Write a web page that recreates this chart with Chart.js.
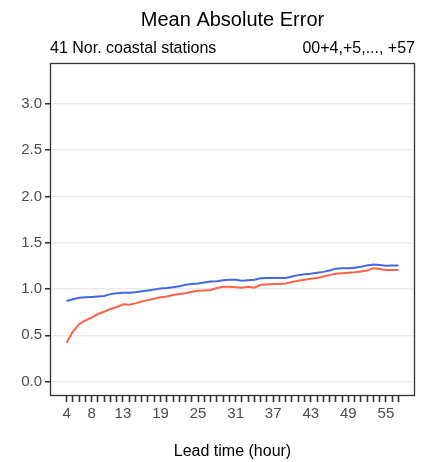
<!DOCTYPE html>
<html>
<head>
<meta charset="utf-8">
<script src="https://cdn.jsdelivr.net/npm/chart.js@4.4.1/dist/chart.umd.min.js"></script>
<style>
    body { margin: 0; background: #fff; }
    canvas { display: block; }
</style>
</head>
<body>
<canvas id="chart-mae" width="431" height="462"></canvas>
<script>
const hours = [4, 5, 6, 7, 8, 9, 10, 11, 12, 13, 14, 15, 16, 17, 18, 19, 20, 21, 22, 23,
    24, 25, 26, 27, 28, 29, 30, 31, 32, 33, 34, 35, 36, 37, 38, 39, 40, 41, 42, 43,
    44, 45, 46, 47, 48, 49, 50, 51, 52, 53, 54, 55, 56, 57];

// blue line
const maeBlue = [0.87, 0.89, 0.905, 0.91, 0.915, 0.92, 0.925, 0.945, 0.955, 0.96,
    0.96, 0.965, 0.975, 0.985, 0.995, 1.005, 1.01, 1.02, 1.03, 1.045,
    1.055, 1.06, 1.07, 1.08, 1.085, 1.095, 1.10, 1.10, 1.09, 1.095,
    1.10, 1.115, 1.12, 1.12, 1.12, 1.12, 1.135, 1.15, 1.16, 1.165,
    1.175, 1.185, 1.20, 1.22, 1.225, 1.225, 1.23, 1.24, 1.255, 1.265,
    1.26, 1.25, 1.255, 1.255];

// red line
const maeRed = [0.42, 0.54, 0.62, 0.66, 0.69, 0.73, 0.755, 0.785, 0.805, 0.835,
    0.83, 0.845, 0.865, 0.88, 0.895, 0.91, 0.92, 0.935, 0.945, 0.955,
    0.97, 0.98, 0.985, 0.99, 1.01, 1.025, 1.025, 1.02, 1.015, 1.025,
    1.015, 1.045, 1.05, 1.055, 1.055, 1.06, 1.075, 1.09, 1.10, 1.11,
    1.12, 1.135, 1.15, 1.165, 1.17, 1.175, 1.18, 1.19, 1.20, 1.225,
    1.215, 1.205, 1.205, 1.205];

const xLabelHours = [4, 8, 13, 19, 25, 31, 37, 43, 49, 55];
const yTicks = [0.0, 0.5, 1.0, 1.5, 2.0, 2.5, 3.0];

const titleText = 'Mean Absolute Error';
const leftNote = '41 Nor. coastal stations';
const rightNote = '00+4,+5,..., +57';
const xTitle = 'Lead time (hour)';

const FONT = '"Liberation Sans", Arial, Helvetica, sans-serif';

const toPoints = (ys) => hours.map((h, i) => ({x: h, y: ys[i]}));

// title, notes above the panel and the panel frame
const frame = {
    id: 'frame',
    afterDraw(chart) {
        const {ctx, chartArea: a} = chart;
        ctx.save();
        ctx.strokeStyle = '#333333';
        ctx.lineWidth = 1.3;
        ctx.strokeRect(a.left + 0.5, a.top + 0.5, a.right - a.left - 1, a.bottom - a.top - 1);

        ctx.fillStyle = '#000';
        ctx.textBaseline = 'middle';
        ctx.font = '20px ' + FONT;
        ctx.textAlign = 'center';
        ctx.fillText(titleText, (a.left + a.right) / 2, 20);

        ctx.font = '16px ' + FONT;
        ctx.textAlign = 'left';
        ctx.fillText(leftNote, a.left, 49);
        ctx.textAlign = 'right';
        ctx.fillText(rightNote, a.right, 49);
        ctx.restore();
    },
};

new Chart(document.getElementById('chart-mae'), {
    type: 'line',
    data: {
        datasets: [{
            data: toPoints(maeBlue),
            borderColor: '#4169e1',
            borderWidth: 2,
            pointRadius: 0,
            tension: 0,
        }, {
            data: toPoints(maeRed),
            borderColor: '#ff6347',
            borderWidth: 2,
            pointRadius: 0,
            tension: 0,
        }],
    },
    options: {
        responsive: false,
        animation: false,
        layout: {
            padding: {top: 63, right: 16, left: 0, bottom: 0},
        },
        plugins: {
            legend: {display: false},
            tooltip: {enabled: false},
        },
        scales: {
            x: {
                type: 'linear',
                min: 1.35,
                max: 59.65,
                afterBuildTicks: (scale) => {
                    scale.ticks = hours.map((h) => ({value: h}));
                },
                afterFit: (scale) => {
                    scale.height = 66;
                },
                border: {display: false},
                grid: {
                    drawOnChartArea: false,
                    drawTicks: true,
                    tickLength: 6,
                    tickWidth: 1.6,
                    tickColor: '#333333',
                },
                ticks: {
                    autoSkip: false,
                    maxRotation: 0,
                    padding: 3,
                    color: '#4d4d4d',
                    font: {family: FONT, size: 15},
                    callback: (v) => xLabelHours.includes(v) ? String(v) : '',
                },
                title: {
                    display: true,
                    text: xTitle,
                    color: '#000',
                    font: {family: FONT, size: 16},
                    padding: {top: 4, bottom: 1},
                },
            },
            y: {
                min: -0.155,
                max: 3.44,
                afterBuildTicks: (scale) => {
                    scale.ticks = yTicks.map((v) => ({value: v}));
                },
                afterFit: (scale) => {
                    scale.width = 50;
                },
                border: {display: false},
                grid: {
                    color: '#ebebeb',
                    lineWidth: 1.5,
                    tickColor: '#333333',
                    tickWidth: 1.6,
                    tickLength: 5,
                },
                ticks: {
                    padding: 3,
                    color: '#4d4d4d',
                    font: {family: FONT, size: 15},
                    callback: (v) => v.toFixed(1),
                },
            },
        },
    },
    plugins: [frame],
});
</script>
</body>
</html>
